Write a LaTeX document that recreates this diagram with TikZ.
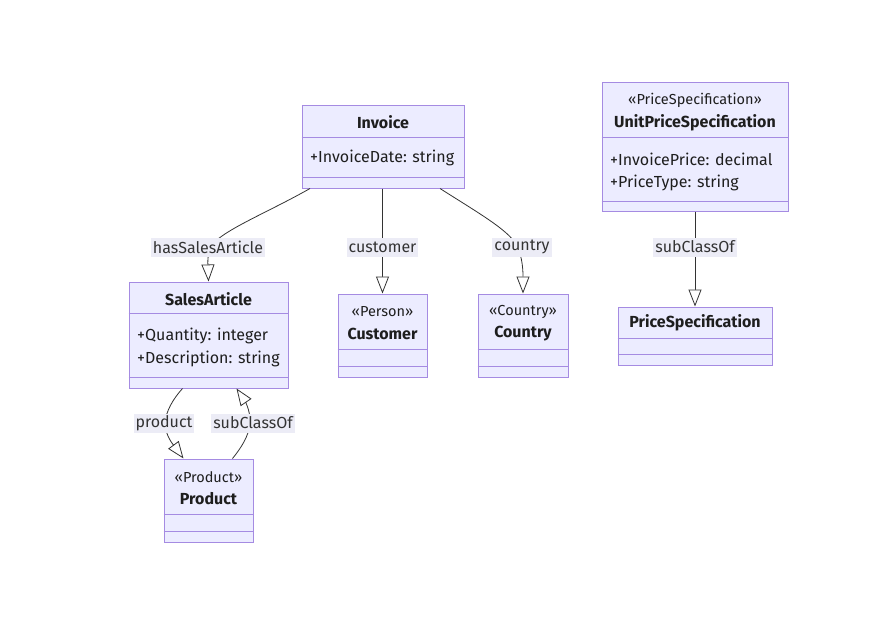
\documentclass[tikz,border=0pt]{standalone}
\usepackage{fontspec}
\setmainfont{Fira Sans}
\usetikzlibrary{arrows.meta,calc}

\definecolor{classfill}{HTML}{ECECFF}
\definecolor{classline}{HTML}{A58BE2}
\definecolor{edgeline}{HTML}{333333}
\definecolor{labelbg}{HTML}{ECECF6}
\definecolor{ink}{HTML}{1E1E1E}

\tikzset{
  classbox/.style={draw=classline, fill=classfill, line width=1pt, rectangle, inner sep=0pt},
  divider/.style={draw=classline, line width=1pt},
  ctitle/.style={font=\fontsize{16}{19}\selectfont\bfseries, text=ink, inner sep=0pt},
  cstereo/.style={font=\fontsize{14.5}{17}\selectfont, text=ink, inner sep=0pt},
  cattr/.style={font=\fontsize{16}{19}\selectfont, text=ink, inner sep=0pt, anchor=west},
  rel/.style={draw=edgeline, line width=0.8pt,
    -{Triangle[open, fill=white, length=17pt, width=13pt]}},
  elabel/.style={fill=labelbg, text=edgeline, font=\fontsize{16}{19}\selectfont,
    inner xsep=2pt, inner ysep=0pt, minimum height=19pt}
}

\begin{document}
\begin{tikzpicture}[x=1pt, y=-1pt]
\useasboundingbox[fill=white] (0,0) rectangle (894,618);

% ---- class boxes ----
\node[classbox, minimum width=162pt, minimum height=83pt] (invoice) at (383,146.5) {};
\node[classbox, minimum width=186pt, minimum height=129pt] (unitprice) at (695,146.5) {};
\node[classbox, minimum width=159pt, minimum height=106pt] (sales) at (208.5,335) {};
\node[classbox, minimum width=89pt, minimum height=83pt] (customer) at (382.5,335.5) {};
\node[classbox, minimum width=90pt, minimum height=83pt] (country) at (523,335.5) {};
\node[classbox, minimum width=89pt, minimum height=83pt] (product) at (208.5,500.5) {};
\node[classbox, minimum width=154pt, minimum height=58pt] (pricespec) at (695,336) {};

% ---- compartment dividers ----
\draw[divider] (invoice.west |- 0,137) -- (invoice.east |- 0,137);
\draw[divider] (invoice.west |- 0,177) -- (invoice.east |- 0,177);
\draw[divider] (unitprice.west |- 0,137) -- (unitprice.east |- 0,137);
\draw[divider] (unitprice.west |- 0,201) -- (unitprice.east |- 0,201);
\draw[divider] (sales.west |- 0,313) -- (sales.east |- 0,313);
\draw[divider] (sales.west |- 0,377) -- (sales.east |- 0,377);
\draw[divider] (customer.west |- 0,349) -- (customer.east |- 0,349);
\draw[divider] (customer.west |- 0,366) -- (customer.east |- 0,366);
\draw[divider] (country.west |- 0,349) -- (country.east |- 0,349);
\draw[divider] (country.west |- 0,366) -- (country.east |- 0,366);
\draw[divider] (product.west |- 0,514) -- (product.east |- 0,514);
\draw[divider] (product.west |- 0,531) -- (product.east |- 0,531);
\draw[divider] (pricespec.west |- 0,338) -- (pricespec.east |- 0,338);
\draw[divider] (pricespec.west |- 0,354) -- (pricespec.east |- 0,354);

% ---- class texts ----
\node[ctitle] (invoiceT) at (383,122) {Invoice};
\node[cattr] (invoiceA1) at (310,158) {+InvoiceDate: string};

\node[cstereo] (unitpriceS) at (695,100) {«PriceSpecification»};
\node[ctitle] (unitpriceT) at (695,123) {UnitPriceSpecification};
\node[cattr] (unitpriceA1) at (610,159) {+InvoicePrice: decimal};
\node[cattr] (unitpriceA2) at (610,183) {+PriceType: string};

\node[ctitle] (salesT) at (208.5,299) {SalesArticle};
\node[cattr] (salesA1) at (137,336) {+Quantity: integer};
\node[cattr] (salesA2) at (137,359) {+Description: string};

\node[cstereo] (customerS) at (382.5,312) {«Person»};
\node[ctitle] (customerT) at (382.5,334) {Customer};

\node[cstereo] (countryS) at (523,312) {«Country»};
\node[ctitle] (countryT) at (523,334) {Country};

\node[cstereo] (productS) at (208.5,477) {«Product»};
\node[ctitle] (productT) at (208.5,499) {Product};

\node[ctitle] (pricespecT) at (695,323) {PriceSpecification};

% ---- relations ----
\draw[rel] ($(invoice.south)+(-73,0)$) .. controls (265,214) and (218,232) .. (210,248)
  .. controls (207,258) and (208,266) .. (sales.north);
\draw[rel] (invoice.south -| customer.north) -- (customer.north);
\draw[rel] ($(invoice.south)+(57,0)$) .. controls (480,214) and (512,232) .. (518,248)
  .. controls (522,258) and (523,268) .. (country.north);
\draw[rel] (unitprice.south) -- (pricespec.north);
\draw[rel] ($(sales.south)+(-26,0)$) .. controls (173,399) and (166,411) .. (165,423)
  .. controls (165,436) and (175,447) .. ($(product.north)+(-25,0)$);
\draw[rel] ($(product.north)+(24,0)$) .. controls (241,448) and (249,436) .. (250,423)
  .. controls (251,410) and (243,398) .. ($(sales.south)+(28,0)$);

% ---- relation labels ----
\node[elabel] (lblHas) at (208,247) {hasSalesArticle};
\node[elabel] (lblCustomer) at (382.5,247) {customer};
\node[elabel] (lblCountry) at (522,247) {country};
\node[elabel] (lblSub1) at (695,247) {subClassOf};
\node[elabel] (lblProduct) at (164,423) {product};
\node[elabel] (lblSub2) at (253,423) {subClassOf};
\end{tikzpicture}
\end{document}
